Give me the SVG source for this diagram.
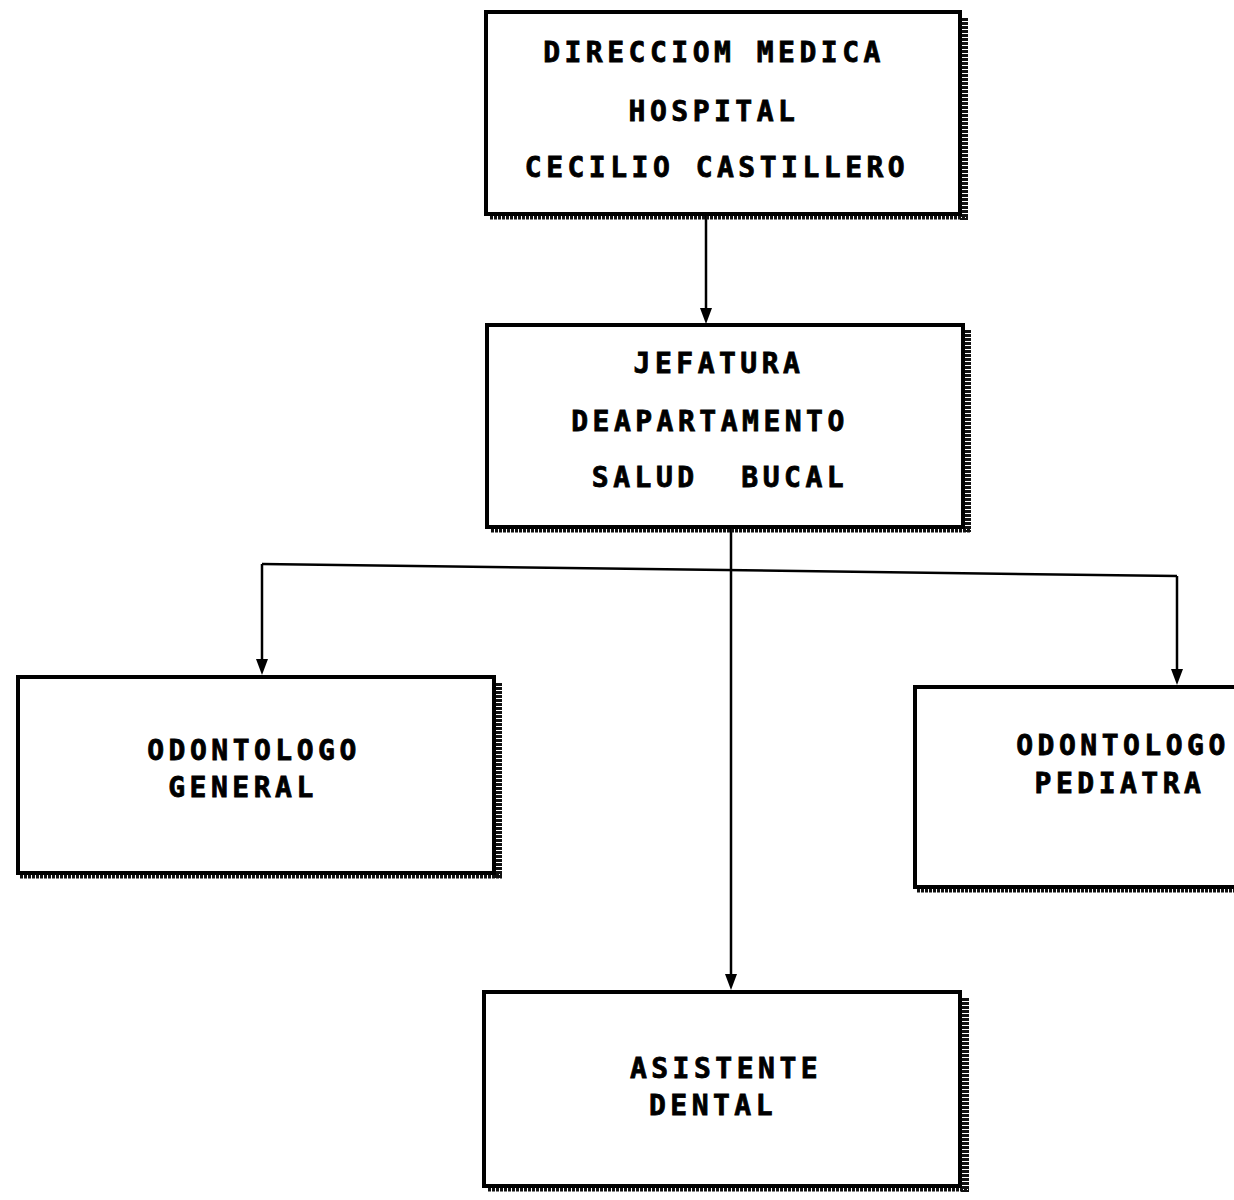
<svg xmlns="http://www.w3.org/2000/svg" width="1234" height="1200" viewBox="0 0 1234 1200">
<defs>
<style>
.box{fill:#fff;stroke:#000;stroke-width:4}
.sh{fill:none;stroke:#111;stroke-width:8;stroke-dasharray:3 1}
.shb{fill:none;stroke:#111;stroke-width:5;stroke-dasharray:3 1}
.t{font-family:"DejaVu Sans Mono","Liberation Mono",monospace;font-weight:bold;font-size:28px;letter-spacing:4.5px;text-anchor:middle;fill:#000;stroke:#000;stroke-width:0.8}
.ln{fill:none;stroke:#000;stroke-width:2.5}
.ah{fill:#000}
</style>
</defs>
<rect width="1234" height="1200" fill="#fff"/>
<g id="connectors">
<path class="ln" d="M706,216 L706,310"/>
<path class="ah" d="M700,308 L712,308 L706,324 Z"/>
<path class="ln" d="M731,528 L731,978"/>
<path class="ah" d="M725,974 L737,974 L731,990 Z"/>
<path class="ln" d="M262,564 L1177,576"/>
<path class="ln" d="M262,564 L262,660"/>
<path class="ah" d="M256,659 L268,659 L262,675 Z"/>
<path class="ln" d="M1177,576 L1177,672"/>
<path class="ah" d="M1171,669 L1183,669 L1177,685 Z"/>
</g>
<g id="n1">
<path class="sh" d="M964,18 L964,220"/>
<path class="shb" d="M490,217 L968,217"/>
<rect class="box" x="486" y="12" width="474" height="202"/>
<text class="t" x="714" y="62">DIRECCIOM MEDICA</text>
<text class="t" x="714" y="121">HOSPITAL</text>
<text class="t" x="717" y="177">CECILIO CASTILLERO</text>
</g>
<g id="n2">
<path class="sh" d="M967,330 L967,532"/>
<path class="shb" d="M491,530 L971,530"/>
<rect class="box" x="487" y="325" width="476" height="202"/>
<text class="t" x="719" y="373">JEFATURA</text>
<text class="t" x="710" y="431">DEAPARTAMENTO</text>
<text class="t" x="720" y="487" xml:space="preserve">SALUD  BUCAL</text>
</g>
<g id="n3">
<path class="sh" d="M498,683 L498,879"/>
<path class="shb" d="M20,876 L502,876"/>
<rect class="box" x="18" y="677" width="476" height="196"/>
<text class="t" x="254" y="760">ODONTOLOGO</text>
<text class="t" x="243" y="797">GENERAL</text>
</g>
<g id="n4">
<path class="shb" d="M917,890 L1234,890"/>
<rect class="box" x="915" y="687" width="340" height="200"/>
<text class="t" x="1123" y="755">ODONTOLOGO</text>
<text class="t" x="1120" y="793">PEDIATRA</text>
</g>
<g id="n5">
<path class="sh" d="M965,998 L965,1192"/>
<path class="shb" d="M488,1189 L969,1189"/>
<rect class="box" x="484" y="992" width="476" height="194"/>
<text class="t" x="726" y="1078">ASISTENTE</text>
<text class="t" x="713" y="1115">DENTAL</text>
</g>
</svg>
